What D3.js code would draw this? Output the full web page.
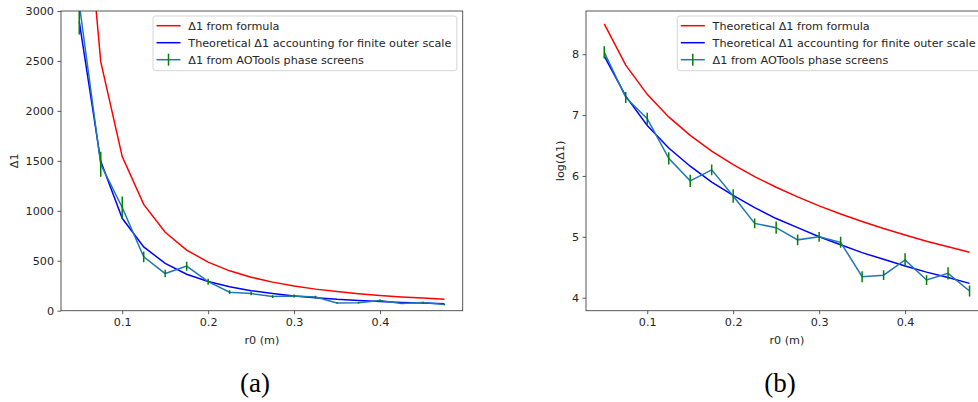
<!DOCTYPE html>
<html><head><meta charset="utf-8">
<script src="https://cdn.jsdelivr.net/npm/d3@7"></script>
<style>
body{margin:0;background:#fff;}
svg{display:block;}
text{font-family:"DejaVu Sans",sans-serif;fill:#262626;}
</style></head>
<body><svg id="c" width="978" height="402"></svg>
<script>
// ---- data ----
const r0 = [0.05,0.075,0.1,0.125,0.15,0.175,0.2,0.225,0.25,0.275,0.3,0.325,0.35,0.375,0.4,0.425,0.45,0.475];
// panel (a): Δ1
const formulaA = [4900,2493,1543,1064,785,607,486,399,335,286,247,216,191,170,153,138,126,115];
const outerA   = [2893,1495,925,639,473,365,293,240,200,172,148,130,114,103,92,83,76,69];
const aotA     = [3072,1466,1033,539,372,446,290,185,172,141,148,136,77,79,101,73,81,61];
const aotErrA  = [307,125,110,54,37,45,29,19,17,14,15,14,8,8,10,7,8,6];
// panel (b): log(Δ1)
const formulaB = [8.497,7.821,7.341,6.970,6.666,6.409,6.186,5.989,5.814,5.656,5.509,5.375,5.252,5.136,5.030,4.927,4.836,4.745];
const outerB   = [7.97,7.31,6.83,6.46,6.16,5.90,5.68,5.48,5.30,5.15,5.00,4.87,4.74,4.63,4.52,4.42,4.33,4.235];
const aotB     = [8.03,7.29,6.94,6.29,5.92,6.10,5.67,5.22,5.15,4.95,5.00,4.91,4.345,4.37,4.62,4.29,4.40,4.11];
const aotErrB  = [0.10,0.09,0.10,0.10,0.10,0.09,0.11,0.08,0.10,0.09,0.08,0.09,0.09,0.08,0.11,0.08,0.10,0.09];
const xTicks = [0.1,0.2,0.3,0.4];
const yTicksA = [0,500,1000,1500,2000,2500,3000];
const yTicksB = [4,5,6,7,8];
const legendA = ["Δ1 from formula","Theoretical Δ1 accounting for finite outer scale","Δ1 from AOTools phase screens"];
const legendB = ["Theoretical Δ1 from formula","Theoretical Δ1 accounting for finite outer scale","Δ1 from AOTools phase screens"];

const svg = d3.select("#c");
const FS = 11.2;

function panel(o){
  const g = svg.append("g");
  const x = d3.scaleLinear().domain([0.02875,0.49625]).range([o.x0,o.x1]);
  const y = d3.scaleLinear().domain(o.ydom).range([o.y1,o.y0]);
  const cid = "clip"+o.id;
  svg.append("defs").append("clipPath").attr("id",cid).append("rect")
    .attr("x",o.x0).attr("y",o.y0).attr("width",o.x1-o.x0).attr("height",o.y1-o.y0);
  const pg = g.append("g").attr("clip-path",`url(#${cid})`);
  const line = d3.line().x((d,i)=>x(r0[i])).y(d=>y(d));
  pg.append("path").datum(o.red).attr("d",line).attr("fill","none").attr("stroke","#ff0000").attr("stroke-width",1.5);
  pg.append("path").datum(o.blue).attr("d",line).attr("fill","none").attr("stroke","#0000ff").attr("stroke-width",1.5);
  pg.append("path").datum(o.aot).attr("d",line).attr("fill","none").attr("stroke","#1f77b4").attr("stroke-width",1.5);
  pg.selectAll("line.err").data(o.aot).join("line").attr("class","err")
    .attr("x1",(d,i)=>x(r0[i])).attr("x2",(d,i)=>x(r0[i]))
    .attr("y1",(d,i)=>y(d-o.err[i])).attr("y2",(d,i)=>y(d+o.err[i]))
    .attr("stroke","#008000").attr("stroke-width",1.5);

  // axes
  const xa = g.append("g").attr("transform",`translate(0,${o.y1})`)
    .call(d3.axisBottom(x).tickValues(xTicks).tickSize(3.5).tickPadding(3.5).tickFormat(d3.format(".1f")));
  const ya = g.append("g").attr("transform",`translate(${o.x0},0)`)
    .call(d3.axisLeft(y).tickValues(o.yticks).tickSize(3.5).tickPadding(3.5).tickFormat(d=>String(d)));
  [xa,ya].forEach(a=>{
    a.select(".domain").remove();
    a.selectAll(".tick line").attr("stroke","#333").attr("stroke-width",0.8);
    a.selectAll(".tick text").attr("font-size",FS).attr("font-family","DejaVu Sans").attr("fill","#262626");
  });
  g.append("rect").attr("x",o.x0).attr("y",o.y0).attr("width",o.x1-o.x0).attr("height",o.y1-o.y0)
    .attr("fill","none").attr("stroke","#444").attr("stroke-width",0.9);

  g.append("text").attr("x",(o.x0+o.x1)/2).attr("y",344).attr("text-anchor","middle").attr("font-size",FS).text("r0 (m)");
  g.append("text").attr("transform",`translate(${o.ylx},${(o.y0+o.y1)/2}) rotate(-90)`).attr("text-anchor","middle")
    .attr("dy","0.35em").attr("font-size",FS).text(o.ylabel);
  g.append("text").attr("x",o.capx).attr("y",392).attr("text-anchor","middle")
    .style("font-family","'Liberation Serif','Times New Roman',serif")
    .attr("font-size",27).style("fill","#000").text(o.cap);

  // legend
  const lg = g.append("g");
  const box = lg.append("rect").attr("x",o.lx).attr("y",16).attr("height",54.7).attr("rx",2.5)
    .attr("fill","#fff").attr("fill-opacity",0.8).attr("stroke","#d0d0d0").attr("stroke-width",0.9);
  let maxw = 0;
  o.legend.forEach((t,i)=>{
    const yy = 25.7 + i*17;
    const col = ["#ff0000","#0000ff","#1f77b4"][i];
    lg.append("line").attr("x1",o.lx+3.5).attr("x2",o.lx+27.5).attr("y1",yy).attr("y2",yy).attr("stroke",col).attr("stroke-width",1.5);
    if(i===2) lg.append("line").attr("x1",o.lx+15.5).attr("x2",o.lx+15.5).attr("y1",yy-6).attr("y2",yy+6).attr("stroke","#008000").attr("stroke-width",1.5);
    const tx = lg.append("text").attr("x",o.lx+35.3).attr("y",yy).attr("dy","0.35em").attr("font-size",FS).text(t);
    maxw = Math.max(maxw, tx.node().getComputedTextLength());
  });
  box.attr("width",35.3+maxw+5.5);
}

panel({id:"a",x0:61,x1:462.7,y0:11,y1:310.7,ydom:[0,3000],red:formulaA,blue:outerA,aot:aotA,err:aotErrA,
  yticks:yTicksA,ylabel:"Δ1",ylx:14,cap:"(a)",capx:255,legend:legendA,lx:153});
panel({id:"b",x0:586,x1:987.8,y0:11,y1:310.7,ydom:[3.786,8.71],red:formulaB,blue:outerB,aot:aotB,err:aotErrB,
  yticks:yTicksB,ylabel:"log(Δ1)",ylx:560,cap:"(b)",capx:780,legend:legendB,lx:677.3});
</script></body></html>
